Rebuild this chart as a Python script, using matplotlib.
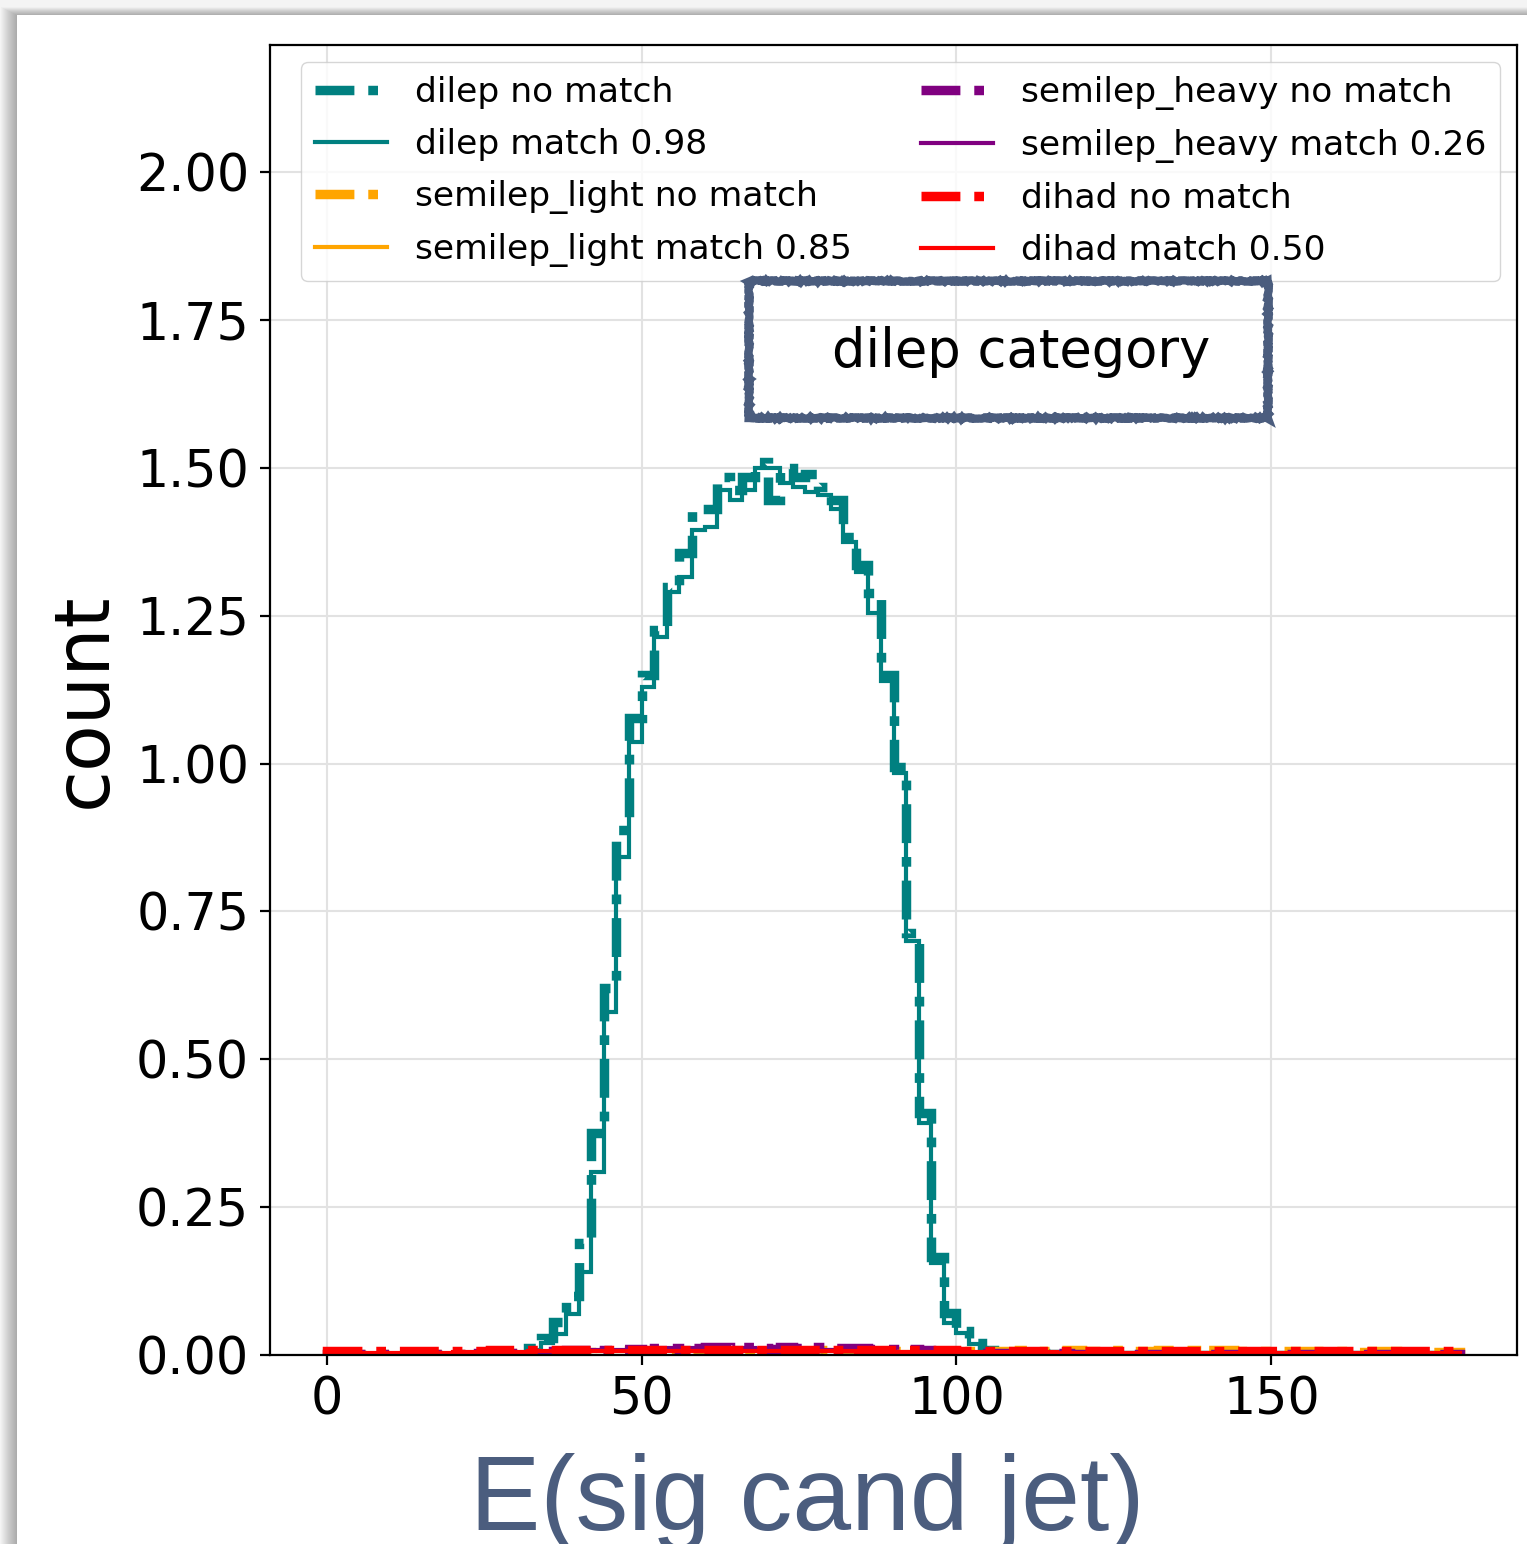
import matplotlib
matplotlib.use("Agg")
import matplotlib.pyplot as plt
from matplotlib.patches import Rectangle
import numpy as np

# 2 GeV bins from 0 to 180
bin_edges = list(range(0, 182, 2))

dilep_nomatch = [
    0, 0, 0, 0, 0, 0, 0, 0, 0, 0,
    0, 0, 0, 0, 0.002, 0.006, 0.012, 0.028, 0.055, 0.10,
    0.19, 0.375, 0.62, 0.887, 1.077, 1.15, 1.226, 1.298, 1.356, 1.43,
    1.43, 1.484, 1.462, 1.484, 1.51, 1.445, 1.50, 1.484, 1.49, 1.467,
    1.445, 1.383, 1.336, 1.288, 1.15, 0.994, 0.713, 0.409, 0.166, 0.071,
    0.04, 0.02, 0.008, 0.005, 0.004, 0.005, 0.003, 0.002, 0.002, 0.001,
    0, 0, 0, 0, 0, 0, 0, 0, 0, 0,
    0, 0, 0, 0, 0, 0, 0, 0, 0, 0,
    0, 0, 0, 0, 0, 0, 0, 0, 0, 0,
]
dilep_match = [
    0, 0, 0, 0, 0, 0, 0, 0, 0, 0,
    0, 0, 0, 0, 0.001, 0.004, 0.008, 0.02, 0.035, 0.07,
    0.14, 0.31, 0.58, 0.842, 1.036, 1.13, 1.214, 1.29, 1.315, 1.395,
    1.40, 1.462, 1.445, 1.462, 1.50, 1.50, 1.475, 1.467, 1.46, 1.454,
    1.43, 1.375, 1.324, 1.254, 1.14, 0.984, 0.70, 0.392, 0.155, 0.054,
    0.037, 0.018, 0.006, 0.004, 0.003, 0.004, 0.002, 0.001, 0.001, 0,
    0, 0, 0, 0, 0, 0, 0, 0, 0, 0,
    0, 0, 0, 0, 0, 0, 0, 0, 0, 0,
    0, 0, 0, 0, 0, 0, 0, 0, 0, 0,
]
semilep_light_nomatch = [
    0.001, 0.001, 0.001, 0.001, 0.001, 0.002, 0.002, 0.002, 0.002, 0.002,
    0.002, 0.003, 0.003, 0.003, 0.003, 0.003, 0.004, 0.004, 0.004, 0.004,
    0.005, 0.004, 0.006, 0.005, 0.009, 0.005, 0.004, 0.006, 0.005, 0.007,
    0.006, 0.006, 0.007, 0.005, 0.006, 0.007, 0.006, 0.005, 0.006, 0.009,
    0.006, 0.006, 0.005, 0.006, 0.007, 0.006, 0.007, 0.006, 0.005, 0.006,
    0.006, 0.006, 0.007, 0.007, 0.007, 0.008, 0.007, 0.007, 0.008, 0.008,
    0.007, 0.007, 0.008, 0.008, 0.007, 0.007, 0.008, 0.008, 0.008, 0.007,
    0.008, 0.008, 0.006, 0.006, 0.006, 0.006, 0.006, 0.006, 0.006, 0.006,
    0.006, 0.005, 0.005, 0.006, 0.006, 0.005, 0.005, 0.005, 0.005, 0.005,
]
semilep_light_match = [
    0, 0, 0, 0, 0, 0, 0, 0, 0, 0,
    0.001, 0.001, 0.001, 0.002, 0.002, 0.002, 0.003, 0.004, 0.004, 0.005,
    0.006, 0.006, 0.007, 0.007, 0.008, 0.008, 0.008, 0.008, 0.009, 0.009,
    0.009, 0.009, 0.01, 0.009, 0.009, 0.009, 0.009, 0.008, 0.009, 0.008,
    0.008, 0.007, 0.007, 0.006, 0.006, 0.005, 0.005, 0.004, 0.004, 0.004,
    0.003, 0.003, 0.003, 0.002, 0.002, 0.002, 0.002, 0.001, 0.001, 0.001,
    0.001, 0.001, 0.001, 0, 0, 0, 0, 0, 0, 0,
    0, 0, 0, 0, 0, 0, 0, 0, 0, 0,
    0, 0, 0, 0, 0, 0, 0, 0, 0, 0,
]
semilep_heavy_nomatch = [
    0.001, 0.001, 0.001, 0.001, 0.001, 0.001, 0.002, 0.002, 0.002, 0.002,
    0.002, 0.002, 0.003, 0.003, 0.003, 0.003, 0.004, 0.005, 0.006, 0.008,
    0.008, 0.006, 0.009, 0.010, 0.010, 0.007, 0.012, 0.012, 0.010, 0.012,
    0.013, 0.013, 0.012, 0.013, 0.012, 0.010, 0.013, 0.012, 0.011, 0.013,
    0.012, 0.011, 0.011, 0.010, 0.010, 0.009, 0.010, 0.008, 0.007, 0.006,
    0.005, 0.005, 0.004, 0.004, 0.003, 0.003, 0.003, 0.003, 0.003, 0.002,
    0.002, 0.002, 0.002, 0.002, 0.002, 0.002, 0.002, 0.002, 0.002, 0.002,
    0.002, 0.002, 0.002, 0.002, 0.002, 0.002, 0.002, 0.002, 0.002, 0.002,
    0.002, 0.002, 0.002, 0.002, 0.002, 0.002, 0.002, 0.002, 0.002, 0.002,
]
semilep_heavy_match = [
    0, 0, 0, 0, 0, 0, 0, 0, 0, 0,
    0, 0.001, 0.001, 0.001, 0.002, 0.002, 0.003, 0.004, 0.005, 0.006,
    0.007, 0.008, 0.008, 0.009, 0.010, 0.010, 0.011, 0.011, 0.011, 0.011,
    0.011, 0.011, 0.011, 0.011, 0.010, 0.010, 0.010, 0.009, 0.009, 0.008,
    0.008, 0.007, 0.006, 0.005, 0.004, 0.004, 0.003, 0.003, 0.002, 0.002,
    0.002, 0.001, 0.001, 0.001, 0.001, 0.001, 0, 0, 0, 0,
    0, 0, 0, 0, 0, 0, 0, 0, 0, 0,
    0, 0, 0, 0, 0, 0, 0, 0, 0, 0,
    0, 0, 0, 0, 0, 0, 0, 0, 0, 0,
]
dihad_nomatch = [
    0.006, 0.006, 0.007, 0.006, 0.007, 0.007, 0.006, 0.007, 0.007, 0.007,
    0.007, 0.007, 0.007, 0.008, 0.008, 0.008, 0.009, 0.009, 0.009, 0.009,
    0.009, 0.008, 0.009, 0.008, 0.009, 0.009, 0.008, 0.009, 0.008, 0.009,
    0.009, 0.008, 0.009, 0.008, 0.009, 0.008, 0.009, 0.008, 0.009, 0.008,
    0.008, 0.008, 0.008, 0.008, 0.008, 0.008, 0.008, 0.008, 0.008, 0.008,
    0.007, 0.007, 0.007, 0.007, 0.007, 0.007, 0.007, 0.007, 0.007, 0.007,
    0.007, 0.007, 0.007, 0.007, 0.007, 0.007, 0.007, 0.007, 0.007, 0.007,
    0.007, 0.007, 0.007, 0.007, 0.007, 0.007, 0.007, 0.007, 0.007, 0.007,
    0.007, 0.007, 0.007, 0.007, 0.007, 0.007, 0.007, 0.007, 0.007, 0.007,
]
dihad_match = [
    0.003, 0.003, 0.003, 0.003, 0.004, 0.004, 0.004, 0.004, 0.004, 0.004,
    0.005, 0.005, 0.005, 0.005, 0.005, 0.005, 0.006, 0.006, 0.006, 0.006,
    0.006, 0.006, 0.006, 0.006, 0.006, 0.006, 0.006, 0.006, 0.006, 0.006,
    0.006, 0.006, 0.006, 0.006, 0.006, 0.006, 0.006, 0.006, 0.006, 0.006,
    0.006, 0.006, 0.005, 0.005, 0.005, 0.005, 0.005, 0.005, 0.005, 0.005,
    0.005, 0.005, 0.005, 0.005, 0.005, 0.005, 0.005, 0.005, 0.004, 0.004,
    0.004, 0.004, 0.004, 0.004, 0.004, 0.004, 0.004, 0.004, 0.004, 0.004,
    0.004, 0.004, 0.004, 0.004, 0.004, 0.004, 0.004, 0.004, 0.004, 0.004,
    0.004, 0.004, 0.004, 0.004, 0.004, 0.004, 0.004, 0.004, 0.004, 0.004,
]

categories = ["dilep", "semilep_light", "semilep_heavy", "dihad"]
colors = ["teal", "orange", "purple", "red"]
match_frac = [0.98, 0.85, 0.26, 0.50]
nomatch_vals = [dilep_nomatch, semilep_light_nomatch, semilep_heavy_nomatch, dihad_nomatch]
match_vals = [dilep_match, semilep_light_match, semilep_heavy_match, dihad_match]

W, H, DPI = 1527, 1544, 100
fig = plt.figure(figsize=(W / DPI, H / DPI), dpi=DPI)
fig.patch.set_facecolor("#f4f4f4")

# pasted-panel look: white sheet with a soft shadow on the left/top
bg = fig.add_axes([0, 0, 1, 1], zorder=-5)
bg.set_xlim(0, W)
bg.set_ylim(H, 0)
bg.axis("off")
for d in range(1, 17):
    bg.add_patch(Rectangle((17 - d, 15 - d * 0.5), W, H, color="black", alpha=0.018, lw=0))
bg.add_patch(Rectangle((17, 15), W, H, color="white", lw=0))

ax = fig.add_axes([270 / W, 1 - 1355 / H, (1517 - 270) / W, (1355 - 45) / H])
ax.set_facecolor("none")

plt.rcParams["lines.scale_dashes"] = False
for cat, col, frac, nm, m in zip(categories, colors, match_frac, nomatch_vals, match_vals):
    ax.stairs(nm, bin_edges, color=col, lw=6.8, ls=(0, (28, 10, 7, 10)),
              label=f"{cat} no match")
    ax.stairs(m, bin_edges, color=col, lw=3.0, label=f"{cat} match {frac:.2f}")

ax.set_xlim(-9, 189)
ax.set_ylim(0, 2.215)
ax.set_yticks(np.arange(0, 2.01, 0.25))
ax.set_xticks([0, 50, 100, 150])
ax.yaxis.set_major_formatter(matplotlib.ticker.FormatStrFormatter("%.2f"))
ax.grid(True, color="#e2e2e2", lw=1.5)
ax.set_axisbelow(True)
for sp in ax.spines.values():
    sp.set_linewidth(1.6)
ax.tick_params(labelsize=36.5, length=7, width=1.6, pad=8)
ax.set_ylabel("count", fontsize=55, labelpad=10)

ax.legend(ncol=2, loc="upper right", fontsize=24.8, labelspacing=0.55,
          columnspacing=2.0, handlelength=2.1, borderaxespad=0.5)

slate = "#4b5d7e"
frame = Rectangle((749 / W, 1 - 418 / H), (1268 - 749) / W, (418 - 281) / H,
                  transform=fig.transFigure, fill=False, ec=slate, lw=6)
frame.set_sketch_params(scale=0.7, length=3, randomness=30)
fig.add_artist(frame)
fig.text(1021 / W, 1 - 352 / H, "dilep category", fontsize=38, ha="center", va="center")

fig.text(807 / W, 1 - 1530 / H, "E(sig cand jet)", fontsize=76, color=slate,
         family="Liberation Sans", ha="center", va="baseline")

fig.savefig("out.png", dpi=DPI)
